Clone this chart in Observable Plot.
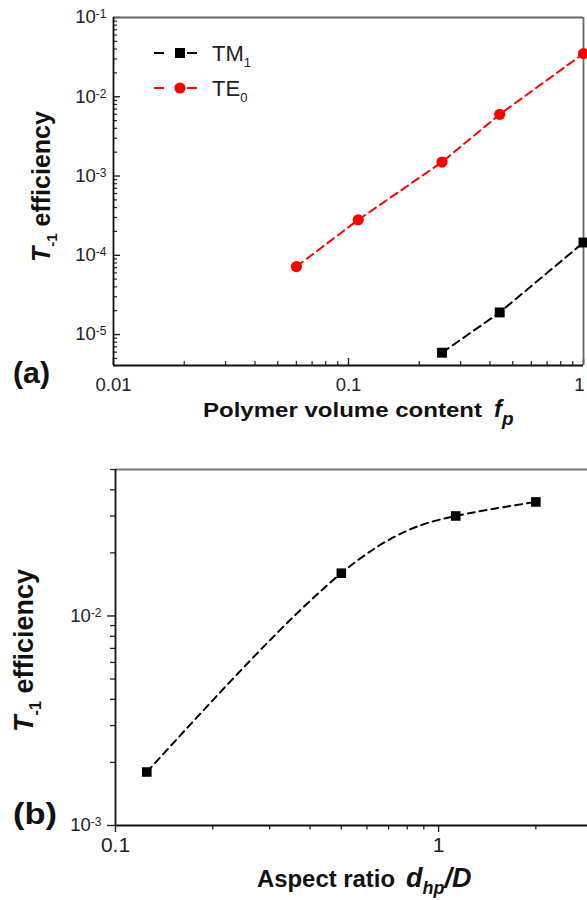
<!DOCTYPE html>
<html>
<head>
<meta charset="utf-8">
<script src="https://cdn.jsdelivr.net/npm/d3@7"></script>
<script src="https://cdn.jsdelivr.net/npm/@observablehq/plot@0.6"></script>
<style>
html,body{margin:0;padding:0;background:#fff;}
#wrap{position:relative;width:587px;height:900px;overflow:hidden;background:#fff;}
#wrap svg{position:absolute;left:0;}
</style>
</head>
<body>
<div id="wrap"></div>
<script>
// ---------- Data: panel (a) ----------
const fpTE0  = [0.06, 0.11, 0.25, 0.44, 1.0];
const effTE0 = [7.2e-5, 2.8e-4, 1.5e-3, 6.0e-3, 3.5e-2];
const fpTM1  = [0.25, 0.44, 1.0];
const effTM1 = [5.9e-6, 1.9e-5, 1.45e-4];
// ---------- Data: panel (b) ----------
const aspectRatio = [0.125, 0.50, 1.13, 2.0];
const effAspect   = [1.8e-3, 1.6e-2, 3.0e-2, 3.5e-2];
// ---------- Tick labels / legend ----------
const xTicksA = [0.01, 0.1, 1];
const yTicksA = [1e-5, 1e-4, 1e-3, 1e-2, 1e-1];
const xTicksB = [0.1, 1];
const yTicksB = [1e-3, 1e-2];
const legendNames  = ["TM", "TE"];
const legendSubs   = ["1", "0"];
const legendColors = ["#000000", "#ff0000"];

const FONT = "'Liberation Sans', Arial, Helvetica, sans-serif";
const W = 587;

function minors(lo, hi) {
  const out = [];
  for (let e = Math.floor(Math.log10(lo)); e <= Math.ceil(Math.log10(hi)); e++)
    for (let k = 2; k <= 9; k++) { const v = k * Math.pow(10, e); if (v >= lo * 0.999 && v <= hi * 1.001) out.push(v); }
  return out;
}
const supFmt = d => "10^" + Math.round(Math.log10(d));
function superscripts(svg, supSize, supDy) {
  d3.select(svg).selectAll("text").each(function() {
    const m = /^10\^(-?\d+)$/.exec(this.textContent);
    if (m) {
      const s = d3.select(this);
      s.text("10");
      s.append("tspan").attr("dy", supDy).attr("font-size", supSize).text(m[1]);
    }
  });
}

// ---------- Panel (a) ----------
const teData = fpTE0.map((x, i) => ({x, y: effTE0[i]}));
const tmData = fpTM1.map((x, i) => ({x, y: effTM1[i]}));
const xDomA = [0.01, 1], yDomA = [4.07e-6, 0.1];
const A = {h: 400, top: 17, bottom: 35, left: 113, right: 4};
const iwA = W - A.left - A.right, ihA = A.h - A.top - A.bottom;

const plotA = Plot.plot({
  width: W, height: A.h,
  marginLeft: A.left, marginRight: A.right, marginTop: A.top, marginBottom: A.bottom,
  style: {fontFamily: FONT, fontSize: "18.5px", color: "#222", background: "#fff"},
  x: {type: "log", domain: xDomA},
  y: {type: "log", domain: yDomA},
  marks: [
    Plot.ruleX(minors(...xDomA), {insetTop: ihA - 4, stroke: "#222", strokeWidth: 1.2}),
    Plot.ruleX(xTicksA, {insetTop: ihA - 7, stroke: "#222", strokeWidth: 1.4}),
    Plot.ruleY(minors(...yDomA), {insetRight: iwA - 4, stroke: "#222", strokeWidth: 1.2}),
    Plot.ruleY(yTicksA, {insetRight: iwA - 7, stroke: "#222", strokeWidth: 1.4}),
    Plot.ruleY([yDomA[1]], {stroke: "#666", strokeWidth: 1.8}),
    Plot.ruleX([xDomA[1]], {stroke: "#666", strokeWidth: 1.8}),
    Plot.ruleX([xDomA[0]], {stroke: "#111", strokeWidth: 1.8}),
    Plot.ruleY([yDomA[0]], {stroke: "#111", strokeWidth: 1.8}),
    Plot.axisX(xTicksA, {tickSize: 0, tickPadding: 12, tickFormat: d => String(d), label: null, fill: "#222"}),
    Plot.axisY(yTicksA, {tickSize: 0, tickPadding: 7, tickFormat: supFmt, label: null, fill: "#222"}),
    Plot.line(tmData, {x: "x", y: "y", stroke: "#000", strokeWidth: 2, strokeDasharray: "8,5"}),
    Plot.line(teData, {x: "x", y: "y", stroke: "#ff0000", strokeWidth: 2, strokeDasharray: "8,5"}),
    Plot.dot(tmData, {x: "x", y: "y", symbol: "square", r: 5.6, fill: "#000"}),
    Plot.dot(teData, {x: "x", y: "y", r: 5.6, fill: "#ff0000"})
  ]
});
superscripts(plotA, 12, -5);
// keep the last x tick label ("1") inside the picture edge
d3.select(plotA).selectAll("text").filter(function() { return this.textContent === "1"; })
  .attr("dx", -4);
plotA.style.top = "0px";
document.getElementById("wrap").appendChild(plotA);

// ---------- Panel (b) ----------
const bData = aspectRatio.map((x, i) => ({x, y: effAspect[i]}));
const xDomB = [0.1, 2.89], yDomB = [1e-3, 0.05];
const B = {h: 420, top: 29, bottom: 35, left: 115, right: 0, y0: 440};

const plotB = Plot.plot({
  width: W, height: B.h,
  marginLeft: B.left, marginRight: B.right, marginTop: B.top, marginBottom: B.bottom,
  style: {fontFamily: FONT, fontSize: "18.5px", color: "#222", background: "#fff"},
  x: {type: "log", domain: xDomB},
  y: {type: "log", domain: yDomB},
  marks: [
    Plot.axisX(minors(...xDomB), {tickSize: 4.5, tickFormat: () => "", label: null, strokeWidth: 1.3}),
    Plot.axisX(xTicksB, {tickSize: 7, tickPadding: 5, tickFormat: d => String(d), label: null, fontSize: 21, strokeWidth: 1.4, fill: "#222"}),
    Plot.axisY(minors(...yDomB), {tickSize: 5, tickFormat: () => "", label: null, strokeWidth: 1.3}),
    Plot.axisY(yTicksB, {tickSize: 8, tickPadding: 6, tickFormat: supFmt, label: null, strokeWidth: 1.4, fill: "#222"}),
    Plot.ruleY([yDomB[1]], {stroke: "#777", strokeWidth: 1.8}),
    Plot.ruleX([xDomB[0]], {stroke: "#111", strokeWidth: 1.8}),
    Plot.ruleY([yDomB[0]], {stroke: "#111", strokeWidth: 1.8}),
    Plot.line(bData, {x: "x", y: "y", curve: "natural", stroke: "#000", strokeWidth: 2, strokeDasharray: "7,5"}),
    Plot.dot(bData, {x: "x", y: "y", symbol: "square", r: 5.4, fill: "#000"})
  ]
});
superscripts(plotB, 12, -5);
plotB.style.top = B.y0 + "px";
document.getElementById("wrap").appendChild(plotB);

// ---------- Overlay texts (titles, legend, panel labels) ----------
const ov = d3.select("#wrap").append("svg")
  .attr("width", W).attr("height", 900).style("top", "0px").style("pointer-events", "none");
const g = ov.append("g").attr("font-family", FONT).attr("fill", "#111");

function yTitle(x, y, size) {
  const t = g.append("text").attr("transform", `translate(${x},${y}) rotate(-90)`)
    .attr("font-size", size).attr("font-weight", "bold");
  t.append("tspan").attr("font-style", "italic").text("T");
  t.append("tspan").attr("font-size", size * 0.6).attr("dy", size * 0.28).text("-1");
  t.append("tspan").attr("dy", -size * 0.28).text(" efficiency");
}
yTitle(50, 262, 25);
yTitle(33, 732, 27);

// x title (a)
g.append("text").attr("x", 203).attr("y", 417).attr("font-size", 21).attr("font-weight", "bold")
  .attr("textLength", 279).attr("lengthAdjust", "spacingAndGlyphs").text("Polymer volume content");
const fp = g.append("text").attr("x", 494).attr("y", 417).attr("font-size", 24)
  .attr("font-weight", "bold").attr("font-style", "italic");
fp.append("tspan").text("f");
fp.append("tspan").attr("font-size", 19).attr("dy", 8).text("p");

// x title (b)
g.append("text").attr("x", 257).attr("y", 887).attr("font-size", 23).attr("font-weight", "bold")
  .attr("textLength", 138).attr("lengthAdjust", "spacingAndGlyphs").text("Aspect ratio");
const dh = g.append("text").attr("x", 406).attr("y", 887).attr("font-size", 27)
  .attr("font-weight", "bold").attr("font-style", "italic");
dh.append("tspan").text("d");
dh.append("tspan").attr("font-size", 18).attr("dy", 7).text("hp");
dh.append("tspan").attr("dy", -7).text("/D");

// panel labels
g.append("text").attr("x", 13).attr("y", 383).attr("font-size", 29).attr("font-weight", "bold")
  .attr("textLength", 37).attr("lengthAdjust", "spacingAndGlyphs").text("(a)");
g.append("text").attr("x", 13).attr("y", 824).attr("font-size", 29).attr("font-weight", "bold")
  .attr("textLength", 44).attr("lengthAdjust", "spacingAndGlyphs").text("(b)");

// legend (a)
const legY = [53, 88];
legendNames.forEach((name, i) => {
  const y = legY[i], c = legendColors[i];
  g.append("line").attr("x1", 154).attr("x2", 197).attr("y1", y).attr("y2", y)
    .attr("stroke", c).attr("stroke-width", 2).attr("stroke-dasharray", "10,23");
  if (i === 0) g.append("rect").attr("x", 175).attr("y", y - 5).attr("width", 10).attr("height", 10).attr("fill", c);
  else g.append("circle").attr("cx", 180).attr("cy", y).attr("r", 5.6).attr("fill", c);
  const t = g.append("text").attr("x", 212).attr("y", y + 8).attr("font-size", 22).attr("fill", "#222");
  t.append("tspan").text(name);
  t.append("tspan").attr("font-size", 13).attr("dy", 6).text(legendSubs[i]);
});
</script>
</body>
</html>
